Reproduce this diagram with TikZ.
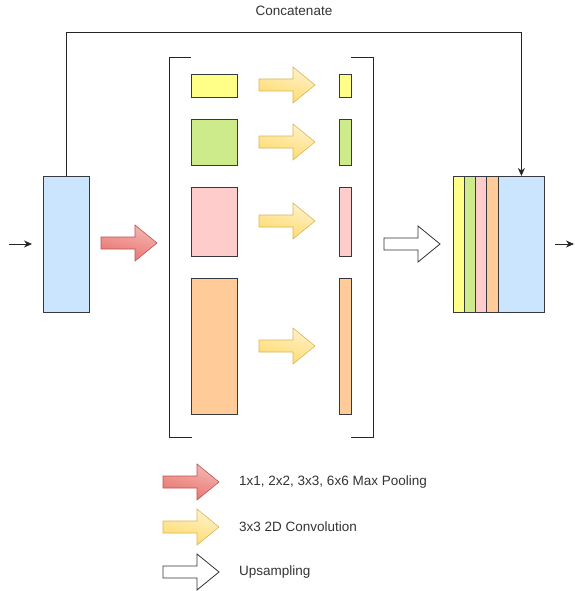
\documentclass[tikz,border=0pt]{standalone}
\usepackage{fontspec}
\setmainfont{Liberation Sans}
\usetikzlibrary{arrows.meta,calc}

\definecolor{edge}{HTML}{36393D}
\definecolor{cyel}{HTML}{FFFF88}
\definecolor{cgrn}{HTML}{CDEB8B}
\definecolor{cpnk}{HTML}{FFCCCC}
\definecolor{corg}{HTML}{FFCC99}
\definecolor{cblu}{HTML}{CCE5FF}
\definecolor{redA}{HTML}{F6B6B3}
\definecolor{redB}{HTML}{E8706B}
\definecolor{redS}{HTML}{B85450}
\definecolor{yelA}{HTML}{FFF2CC}
\definecolor{yelB}{HTML}{FFD966}
\definecolor{yelS}{HTML}{D6B656}
\definecolor{txt}{HTML}{333333}

\tikzset{
  box/.style={draw=edge, line width=0.8pt, inner sep=0pt, anchor=north west},
  conn/.style={draw=black!85, line width=0.8pt},
  tip/.style={-{Stealth[length=8pt,width=7pt]}},
  lbl/.style={font=\fontsize{13.5}{15}\selectfont, text=txt, inner sep=0pt},
  poolarrow/.style={draw=redS, line width=0.6pt, top color=redA, bottom color=redB, shading angle=-15},
  convarrow/.style={draw=yelS, line width=0.6pt, top color=yelA, bottom color=yelB, shading angle=-15},
  uparrow/.style={draw=black!80, line width=0.8pt, fill=white},
}

% block arrow, 56 wide, 36 high, its tail centred on the given point
\newcommand\blockarrow[3]{%
  \path[#1, shift={(#2,#3)}] (0,6) -- (34,6) -- (34,18) -- (56,0) -- (34,-18) -- (34,-6) -- (0,-6) -- cycle;%
}

\begin{document}
\begin{tikzpicture}[x=1pt, y=-1pt]
\useasboundingbox (0,0) rectangle (574,591);

% input feature map
\node[box, fill=cblu, minimum width=46, minimum height=136] (inmap) at (43,176) {};
\coordinate (instart) at (9,244);
\coordinate (inend) at (32,244);
\draw[conn, tip] (instart) -- (inend);

% pooling arrow into the pyramid
\blockarrow{poolarrow}{101}{243}

% bracket around the pyramid branches
\coordinate (bl1) at (191,57);
\coordinate (bl2) at (169,57);
\coordinate (bl3) at (169,437);
\coordinate (bl4) at (192,437);
\coordinate (br1) at (351,57);
\coordinate (br2) at (373,57);
\coordinate (br3) at (373,437);
\coordinate (br4) at (351,437);
\draw[conn] (bl1) -- (bl2) -- (bl3) -- (bl4);
\draw[conn] (br1) -- (br2) -- (br3) -- (br4);

% pooled maps
\node[box, fill=cyel, minimum width=46, minimum height=23] (p1) at (191,74) {};
\node[box, fill=cgrn, minimum width=46, minimum height=46] (p2) at (191,119) {};
\node[box, fill=cpnk, minimum width=46, minimum height=69] (p3) at (191,187) {};
\node[box, fill=corg, minimum width=46, minimum height=136] (p4) at (191,278) {};

% convolved maps
\node[box, fill=cyel, minimum width=12, minimum height=23] (c1) at (339,74) {};
\node[box, fill=cgrn, minimum width=12, minimum height=46] (c2) at (339,119) {};
\node[box, fill=cpnk, minimum width=12, minimum height=69] (c3) at (339,187) {};
\node[box, fill=corg, minimum width=12, minimum height=136] (c4) at (339,278) {};

% convolution arrows
\blockarrow{convarrow}{259}{85}
\blockarrow{convarrow}{259}{142}
\blockarrow{convarrow}{259}{221}
\blockarrow{convarrow}{259}{346}

% upsampling arrow
\blockarrow{uparrow}{384}{244}

% concatenated output
\node[box, fill=cyel, minimum width=11, minimum height=136] (o1) at (453,176) {};
\node[box, fill=cgrn, minimum width=11, minimum height=136] (o2) at (464,176) {};
\node[box, fill=cpnk, minimum width=11, minimum height=136] (o3) at (475,176) {};
\node[box, fill=corg, minimum width=12, minimum height=136] (o4) at (486,176) {};
\node[box, fill=cblu, minimum width=46, minimum height=136] (o5) at (498,176) {};

\coordinate (outstart) at (555,244);
\coordinate (outend) at (574,244);
\draw[conn, tip] (outstart) -- (outend);

% skip connection
\coordinate (skiptop) at (0,32);
\draw[conn, tip] (inmap.north) |- (skiptop -| o5.north) -- (o5.north);
\node[lbl] (concat) at (294,11) {Concatenate};

% legend
\blockarrow{poolarrow}{163}{482}
\node[lbl, anchor=west] (leg1) at (239,482) {1x1, 2x2, 3x3, 6x6 Max Pooling};
\blockarrow{convarrow}{163}{527}
\node[lbl, anchor=west] (leg2) at (239,527) {3x3 2D Convolution};
\blockarrow{uparrow}{163}{572}
\node[lbl, anchor=west] (leg3) at (239,572) {Upsampling};
\end{tikzpicture}
\end{document}
